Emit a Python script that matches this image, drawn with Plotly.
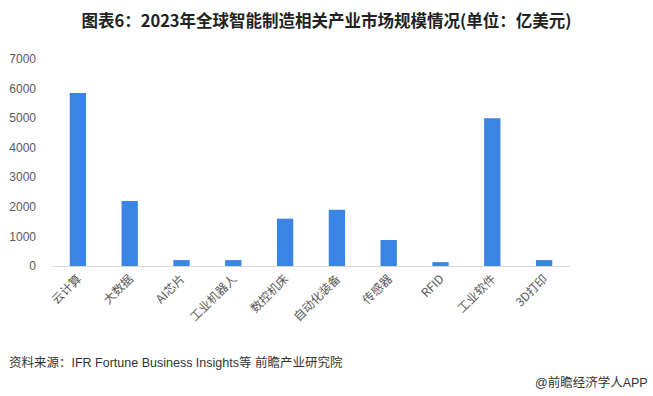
import plotly.graph_objects as go

categories = ["云计算", "大数据", "AI芯片", "工业机器人", "数控机床", "自动化装备", "传感器", "RFID", "工业软件", "3D打印"]
values = [5850, 2200, 200, 200, 1600, 1900, 880, 130, 5000, 200]
y_ticks = [0, 1000, 2000, 3000, 4000, 5000, 6000, 7000]

title_text = "图表6：2023年全球智能制造相关产业市场规模情况(单位：亿美元)"
source_text = "资料来源：IFR Fortune Business Insights等 前瞻产业研究院"
brand_text = "@前瞻经济学人APP"

CJK = "Noto Sans CJK SC, sans-serif"
MIX = "Liberation Sans, Noto Sans CJK SC, sans-serif"

L, R, T, B = 52, 83, 59, 130
W, H = 653, 396
PW, PH = W - L - R, H - T - B

fig = go.Figure(go.Bar(
    x=categories, y=values,
    marker=dict(color="#3a84e4", line=dict(width=0)),
))

fig.update_layout(
    width=W, height=H,
    paper_bgcolor="white", plot_bgcolor="white",
    margin=dict(l=L, r=R, t=T, b=B, autoexpand=False),
    bargap=0.685,
    showlegend=False,
    font=dict(family=MIX, color="#595959", size=12),
    title=dict(text="<b>" + title_text + "</b>", x=0.5, xanchor="center", xref="container",
               y=1 - 21 / H, yanchor="middle",
               font=dict(family=CJK, size=16.5, color="#222222")),
    xaxis=dict(
        tickangle=-45, showgrid=False, showline=True, linecolor="#d9d9d9", linewidth=1,
        ticks="", tickfont=dict(family=CJK, size=12, color="#595959"),
        fixedrange=True, automargin=False,
    ),
    yaxis=dict(
        range=[0, 7000], tickvals=y_ticks, showgrid=False, zeroline=False, showline=False,
        ticks="", ticklabelstandoff=15, tickfont=dict(family=MIX, size=12, color="#595959"),
        fixedrange=True, automargin=False,
    ),
    annotations=[
        dict(text=source_text, xref="paper", yref="paper", x=-(L - 7) / PW, y=-(362 - (H - B)) / PH,
             xanchor="left", yanchor="middle", showarrow=False,
             font=dict(family=MIX, size=12.5, color="#333333")),
        dict(text=brand_text, xref="paper", yref="paper", x=(650 - L) / PW, y=-(383 - (H - B)) / PH,
             xanchor="right", yanchor="middle", showarrow=False,
             font=dict(family=MIX, size=12.5, color="#333333")),
    ],
)

fig.write_html(
    "out.html",
    config={"displayModeBar": False},
    post_script="document.body.style.margin='0';document.body.style.overflow='hidden';",
)
